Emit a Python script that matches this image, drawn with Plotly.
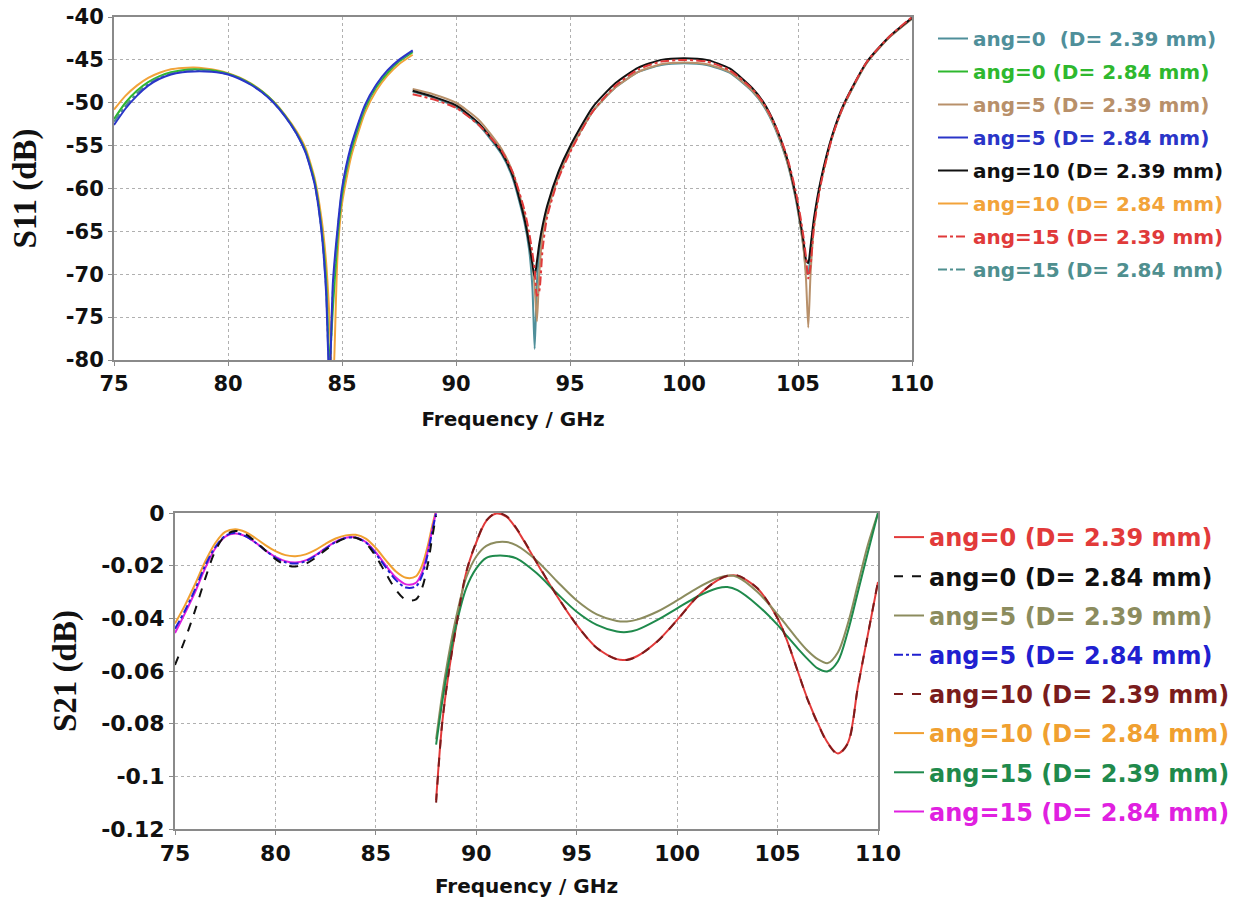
import plotly.graph_objects as go

# ------------------------------------------------------------------ data
# S11, low band (D = 2.84 mm traces)
f11_lo = [75, 75.5, 76, 76.5, 77, 77.5, 78, 78.5, 79, 79.5, 80, 80.5, 81, 81.5, 82,
          82.5, 83, 83.4, 83.8, 84.1, 84.3, 84.45, 84.6, 84.8, 85.0, 85.4, 86.0,
          86.5, 87.0, 87.5, 88.1]
s11_a0_284 = [-51.9, -50.0, -48.6, -47.6, -46.9, -46.45, -46.2, -46.1, -46.15, -46.3,
              -46.6, -47.1, -47.8, -48.7, -49.9, -51.5, -53.5, -55.6, -59.2, -64.5,
              -70.5, -80.5, -74.0, -66.0, -60.8, -55.6, -50.7, -48.2, -46.5, -45.2, -44.1]
s11_a5_284 = [-52.6, -50.7, -49.2, -48.0, -47.2, -46.7, -46.45, -46.35, -46.35, -46.45,
              -46.7, -47.2, -47.9, -48.8, -50.0, -51.6, -53.6, -55.8, -59.5, -65.0,
              -72.0, -83.0, -71.0, -64.8, -60.0, -55.0, -50.3, -47.9, -46.2, -45.0, -43.9]
s11_a10_284 = [-50.8, -49.2, -48.0, -47.1, -46.5, -46.1, -45.95, -45.9, -46.0, -46.2,
               -46.55, -47.05, -47.75, -48.65, -49.85, -51.4, -53.3, -55.3, -58.8, -63.5,
               -68.5, -75.0, -84.0, -68.0, -61.8, -56.3, -51.2, -48.6, -46.8, -45.5, -44.4]
s11_a15_284 = [-52.2, -50.4, -48.9, -47.8, -47.05, -46.6, -46.35, -46.25, -46.25, -46.4,
               -46.65, -47.15, -47.85, -48.75, -49.95, -51.55, -53.55, -55.7, -59.4, -64.8,
               -71.5, -82.0, -72.0, -65.2, -60.3, -55.2, -50.5, -48.0, -46.3, -45.1, -44.0]

# S11, high band (D = 2.39 mm traces)
f11_hi = [88.1, 89, 90, 91, 92, 92.5, 93.0, 93.2, 93.35, 93.45, 93.55, 93.65, 93.8,
          94.0, 94.5, 95, 96, 97, 98, 99, 100, 101, 102, 103, 103.5, 104, 104.5,
          104.9, 105.1, 105.25, 105.35, 105.45, 105.55, 105.7, 106.0, 106.5, 107,
          108, 109, 110]
s11_a0_239 = [-48.7, -49.4, -50.5, -52.6, -56.0, -58.9, -63.9, -67.0, -71.5, -78.7,
              -71.0, -67.5, -64.8, -62.3, -58.3, -55.5, -51.0, -48.2, -46.4, -45.6,
              -45.4, -45.6, -46.5, -48.7, -50.4, -53.0, -56.7, -61.2, -64.3, -67.0,
              -69.5, -70.0, -67.3, -64.0, -59.3, -54.0, -50.4, -45.4, -42.4, -40.2]
s11_a5_239 = [-48.4, -49.0, -50.0, -52.0, -55.4, -58.2, -63.0, -66.0, -68.8, -71.5,
              -75.5, -70.0, -65.5, -62.8, -58.6, -55.6, -51.0, -48.2, -46.4, -45.5,
              -45.3, -45.5, -46.4, -48.6, -50.3, -52.9, -56.6, -61.0, -64.2, -67.2,
              -70.5, -76.2, -70.0, -64.5, -59.3, -54.0, -50.4, -45.4, -42.4, -40.2]
s11_a10_239 = [-48.6, -49.3, -50.3, -52.4, -55.8, -58.6, -63.5, -66.3, -68.8, -70.3,
               -68.5, -66.5, -64.3, -62.0, -58.0, -55.1, -50.5, -47.7, -45.9, -45.0,
               -44.8, -45.0, -46.0, -48.3, -50.0, -52.6, -56.3, -60.8, -63.8, -66.3,
               -68.3, -68.7, -66.8, -63.5, -59.0, -53.8, -50.2, -45.3, -42.3, -40.1]
s11_a15_239 = [-49.0, -49.6, -50.6, -52.6, -55.6, -58.2, -62.5, -65.0, -67.5, -69.5,
               -72.5, -72.0, -67.0, -63.3, -58.8, -55.8, -51.0, -48.0, -46.1, -45.2,
               -45.0, -45.2, -46.2, -48.4, -50.1, -52.6, -56.1, -60.3, -63.2, -65.8,
               -68.0, -70.5, -69.0, -64.5, -59.5, -54.0, -50.3, -45.3, -42.3, -40.0]

# S21, low band (D = 2.84 mm traces)
f21_lo = [75, 75.5, 76, 76.5, 77, 77.5, 78, 78.5, 79, 79.5, 80, 80.5, 81, 81.5, 82,
          82.5, 83, 83.5, 84, 84.5, 85, 85.5, 86, 86.5, 87, 87.3, 87.6, 87.8, 88.0]
s21_a0_284 = [-0.0577, -0.048, -0.037, -0.025, -0.0145, -0.0085, -0.0068, -0.0080,
              -0.0108, -0.0142, -0.0175, -0.0197, -0.0203, -0.0193, -0.0170, -0.0140,
              -0.0113, -0.0096, -0.0094, -0.0115, -0.0165, -0.0230, -0.0292, -0.0330,
              -0.0328, -0.0285, -0.0190, -0.0095, -0.001]
s21_a5_284 = [-0.044, -0.037, -0.029, -0.020, -0.0130, -0.0087, -0.0075, -0.0088,
              -0.0112, -0.0142, -0.0170, -0.0187, -0.0192, -0.0183, -0.0162, -0.0135,
              -0.0110, -0.0095, -0.0094, -0.0112, -0.0155, -0.0207, -0.0255, -0.0283,
              -0.0278, -0.0238, -0.0150, -0.0072, 0.000]
s21_a10_284 = [-0.042, -0.035, -0.027, -0.0185, -0.0115, -0.0072, -0.0062, -0.0072,
               -0.0095, -0.0122, -0.0145, -0.0160, -0.0164, -0.0157, -0.0140, -0.0117,
               -0.0097, -0.0085, -0.0083, -0.0097, -0.0133, -0.0180, -0.0222, -0.0246,
               -0.0240, -0.0200, -0.0120, -0.0050, 0.001]
s21_a15_284 = [-0.0456, -0.038, -0.030, -0.021, -0.0135, -0.0090, -0.0078, -0.0088,
               -0.0112, -0.0142, -0.0167, -0.0183, -0.0188, -0.0180, -0.0160, -0.0133,
               -0.0109, -0.0094, -0.0093, -0.0110, -0.0150, -0.0200, -0.0245, -0.0271,
               -0.0265, -0.0225, -0.0140, -0.0065, 0.0005]

# S21, high band (D = 2.39 mm traces)
f21_hi = [88.0, 88.3, 88.6, 89, 89.5, 90, 90.5, 91, 91.5, 92, 93, 94, 95, 96, 97, 97.5,
          98, 99, 100, 101, 102, 102.5, 103, 104, 105, 105.5, 106, 106.5, 107, 107.5,
          108, 108.5, 109, 109.5, 110]
s21_a0_239 = [-0.109, -0.080, -0.062, -0.043, -0.0226, -0.0112, -0.0030, -0.0002,
              -0.0014, -0.0060, -0.0188, -0.0313, -0.0425, -0.0512, -0.0555, -0.0557,
              -0.0544, -0.0488, -0.0406, -0.0318, -0.0256, -0.0239, -0.0238, -0.0287,
              -0.0400, -0.0490, -0.0600, -0.0708, -0.0798, -0.0873, -0.0913, -0.0873,
              -0.0660, -0.0460, -0.0262]
s21_a5_239 = [-0.086, -0.069, -0.055, -0.0395, -0.0245, -0.0165, -0.0125, -0.0111,
              -0.0110, -0.0123, -0.0180, -0.0258, -0.0332, -0.0385, -0.0410, -0.0412,
              -0.0405, -0.0375, -0.0332, -0.0285, -0.0248, -0.0238, -0.0243, -0.0300,
              -0.0385, -0.0432, -0.0480, -0.0523, -0.0555, -0.0570, -0.0530, -0.0420,
              -0.0270, -0.0120, 0.000]
s21_a10_239 = [-0.110, -0.080, -0.062, -0.043, -0.0224, -0.0110, -0.0028, 0.000,
               -0.0012, -0.0058, -0.0186, -0.0312, -0.0425, -0.0513, -0.0556, -0.0558,
               -0.0545, -0.0489, -0.0407, -0.0318, -0.0255, -0.0238, -0.0237, -0.0286,
               -0.0400, -0.0490, -0.0600, -0.0710, -0.0800, -0.0875, -0.0915, -0.0875,
               -0.0660, -0.0460, -0.0260]
s21_a15_239 = [-0.088, -0.072, -0.058, -0.0425, -0.0285, -0.0210, -0.0170, -0.0162,
               -0.0163, -0.0172, -0.0228, -0.0304, -0.0375, -0.0425, -0.0450, -0.0452,
               -0.0444, -0.0407, -0.0362, -0.0318, -0.0286, -0.0281, -0.0293, -0.0350,
               -0.0425, -0.0470, -0.0514, -0.0555, -0.0590, -0.0601, -0.0564, -0.0450,
               -0.0300, -0.0148, 0.000]

# ticks
x_ticks = [75, 80, 85, 90, 95, 100, 105, 110]
x_tick_text = ["75", "80", "85", "90", "95", "100", "105", "110"]
s11_ticks = [-80, -75, -70, -65, -60, -55, -50, -45, -40]
s11_tick_text = ["-80", "-75", "-70", "-65", "-60", "-55", "-50", "-45", "-40"]
s21_ticks = [-0.12, -0.1, -0.08, -0.06, -0.04, -0.02, 0]
s21_tick_text = ["-0.12", "-0.1", "-0.08", "-0.06", "-0.04", "-0.02", "0"]

# ------------------------------------------------------------------ figure
W, H = 1236, 907
fig = go.Figure()


def lbl(text, color):
    return "<span style='color:%s'>%s</span>" % (color, text)


# (x, y, name, colour, dash, legend rank) ; drawn in list order
top_traces = [
    (f11_lo, s11_a10_284, "ang=10 (D= 2.84 mm)", "#f2a33a", "solid", 6),
    (f11_lo, s11_a0_284, "ang=0 (D= 2.84 mm)", "#2eb82e", "solid", 2),
    (f11_lo, s11_a15_284, "ang=15 (D= 2.84 mm)", "#4f8f8f", "dashdot", 8),
    (f11_lo, s11_a5_284, "ang=5 (D= 2.84 mm)", "#2a35c8", "solid", 4),
    (f11_hi, s11_a0_239, "ang=0  (D= 2.39 mm)", "#4f8f9a", "solid", 1),
    (f11_hi, s11_a5_239, "ang=5 (D= 2.39 mm)", "#b8906a", "solid", 3),
    (f11_hi, s11_a10_239, "ang=10 (D= 2.39 mm)", "#111111", "solid", 5),
    (f11_hi, s11_a15_239, "ang=15 (D= 2.39 mm)", "#e03a3a", "dashdot", 7),
]
for x, y, name, col, dash, rank in top_traces:
    fig.add_trace(go.Scatter(
        x=x, y=y, mode="lines", name=lbl(name, col), legendrank=rank,
        legendgroup="t%d" % rank,
        line=dict(color=col, width=2, dash=dash, shape="spline", smoothing=0.6),
        xaxis="x", yaxis="y", legend="legend"))

bot_traces = [
    (f21_hi, s21_a0_239, "ang=0 (D= 2.39 mm)", "#e23a3a", "solid", 1),
    (f21_hi, s21_a5_239, "ang=5 (D= 2.39 mm)", "#8c8c5e", "solid", 3),
    (f21_hi, s21_a15_239, "ang=15 (D= 2.39 mm)", "#1f8a4c", "solid", 7),
    (f21_hi, s21_a10_239, "ang=10 (D= 2.39 mm)", "#7a1c1c", "dash", 5),
    (f21_lo, s21_a10_284, "ang=10 (D= 2.84 mm)", "#f0a030", "solid", 6),
    (f21_lo, s21_a15_284, "ang=15 (D= 2.84 mm)", "#e020e0", "solid", 8),
    (f21_lo, s21_a5_284, "ang=5 (D= 2.84 mm)", "#2020d0", "dashdot", 4),
    (f21_lo, s21_a0_284, "ang=0 (D= 2.84 mm)", "#111111", "dash", 2),
]
for x, y, name, col, dash, rank in bot_traces:
    fig.add_trace(go.Scatter(
        x=x, y=y, mode="lines", name=lbl(name, col), legendrank=rank,
        legendgroup="b%d" % rank,
        line=dict(color=col, width=2, dash=dash, shape="spline", smoothing=0.9),
        xaxis="x2", yaxis="y2", legend="legend2"))


def axis_style(size):
    return dict(
        showgrid=True, gridcolor="#b0b0b0", griddash="dot", gridwidth=1,
        showline=True, linecolor="#8a8a8a", linewidth=2, mirror=True,
        ticks="outside", ticklen=4, tickcolor="#8a8a8a", zeroline=False,
        tickfont=dict(family="DejaVu Sans", size=size, color="#111111", weight="bold"),
        automargin=False,
    )


ytitle_font = dict(family="Liberation Serif", size=33, color="#111111", weight="bold")
xtitle_font = dict(family="DejaVu Sans", size=20, color="#111111", weight="bold")

fig.update_layout(
    width=W, height=H,
    margin=dict(l=0, r=0, t=0, b=0),
    paper_bgcolor="white", plot_bgcolor="white",
    xaxis=dict(domain=[114 / W, 912 / W], anchor="y", range=[75, 110],
               tickvals=x_ticks, ticktext=x_tick_text,
               title=dict(text="Frequency / GHz", font=xtitle_font, standoff=17),
               **axis_style(21)),
    yaxis=dict(domain=[1 - 360 / H, 1 - 17 / H], anchor="x", range=[-80, -40],
               tickvals=s11_ticks, ticktext=s11_tick_text,
               title=dict(text="S11 (dB)", font=ytitle_font, standoff=19),
               **axis_style(21)),
    xaxis2=dict(domain=[175 / W, 878 / W], anchor="y2", range=[75, 110],
                tickvals=x_ticks, ticktext=x_tick_text,
                title=dict(text="Frequency / GHz", font=xtitle_font, standoff=14),
                **axis_style(22)),
    yaxis2=dict(domain=[1 - 829 / H, 1 - 513 / H], anchor="x2", range=[-0.12, 0],
                tickvals=s21_ticks, ticktext=s21_tick_text,
                title=dict(text="S21 (dB)", font=ytitle_font, standoff=15),
                **axis_style(22)),
    legend=dict(x=933 / W, y=1 - 19 / H, xanchor="left", yanchor="top",
                bgcolor="rgba(0,0,0,0)", borderwidth=0, itemwidth=30,
                tracegroupgap=4,
                font=dict(family="DejaVu Sans", size=20, weight="bold")),
    legend2=dict(x=889 / W, y=1 - 515 / H, xanchor="left", yanchor="top",
                 bgcolor="rgba(0,0,0,0)", borderwidth=0, itemwidth=30,
                 tracegroupgap=5,
                 font=dict(family="DejaVu Sans", size=24, weight="bold")),
    showlegend=True,
)

fig.write_html("out.html")
